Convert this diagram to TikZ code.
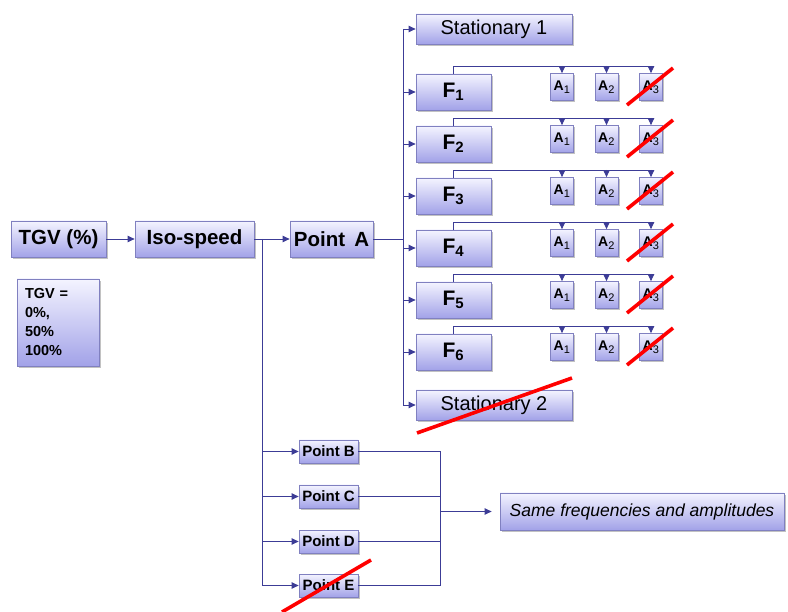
\documentclass[tikz,border=0pt]{standalone}
\usepackage{fontspec}
\setmainfont{Liberation Sans}
\usetikzlibrary{shadows,arrows.meta}
\definecolor{lnc}{HTML}{3C3C96}
\definecolor{bxd}{HTML}{8080C0}
\definecolor{bxt}{HTML}{F4F4FF}
\definecolor{bxb}{HTML}{A2A2E8}
\newcommand{\subsz}[1]{\textsubscript{\fontsize{11}{12}\selectfont #1}}
\begin{document}
\begin{tikzpicture}[x=1pt,y=-1pt,
  box/.style={draw=bxd, line width=0.8pt, top color=bxt, bottom color=bxb, inner sep=0pt,
    drop shadow={shadow xshift=1.6pt,shadow yshift=-1.6pt,opacity=0.4,fill=black!60}},
  ln/.style={draw=lnc, line width=0.9pt},
  arr/.style={ln, -{Triangle[length=7pt,width=6.5pt]}},
  crossout/.style={draw=red, line width=3.6pt},
  bigb/.style={font=\bfseries\fontsize{20.5}{24}\selectfont},
  ptb/.style={box, minimum width=59pt, minimum height=23pt, font=\bfseries\fontsize{15}{18}\selectfont},
  stb/.style={box, minimum width=156pt, minimum height=30pt, font=\fontsize{20}{24}\selectfont},
  abox/.style={box, minimum width=23pt, minimum height=27pt, font=\bfseries\fontsize{14}{16}\selectfont},
  fbox/.style={box, minimum width=75pt, minimum height=36pt, font=\bfseries\fontsize{21}{24}\selectfont}]
\useasboundingbox (0,0) rectangle (788,612);

% left chain
\node[box, bigb, minimum width=95pt, minimum height=36pt] (tgv) at (58.5,239) {TGV (\%)};
\node[box, bigb, minimum width=119pt, minimum height=36pt] (iso) at (194.5,239) {Iso-speed};
\node[box, bigb, minimum width=83pt, minimum height=36pt] (pa) at (331.5,239) {Point\hspace{0.45em}A};
\node[box, minimum width=82pt, minimum height=87pt, text width=66pt, align=left,
  font=\bfseries\fontsize{14.5}{19}\selectfont] (tgvv) at (58,322.5) {TGV =\\0\%,\\50\%\\100\%};

\draw[arr] (tgv.east) -- (iso.west);
\draw[arr] (iso.east) -- (pa.west);

% stationary and F rows
\node[stb] (st1) at (494,29) {Stationary 1};
\node[stb] (st2) at (494,405) {Stationary 2};
\coordinate (vt) at (403,29);
\coordinate (vb) at (403,405);
\draw[ln] (pa.east) -- (pa.east -| vt);
\draw[ln] (vt) -- (vb);
\draw[arr] (vt) -- (st1.west);
\draw[arr] (vb) -- (st2.west);

\foreach \k in {1,...,6}{
  \pgfmathsetmacro{\yt}{73+52*(\k-1)}
  \node[fbox] (f\k) at (453.5,{\yt+19}) {F\textsubscript{\fontsize{15}{16}\selectfont\k}};
  \node[abox] (a\k1) at (562,{\yt+14}) {A\subsz{\mdseries 1}};
  \node[abox] (a\k2) at (606.5,{\yt+14}) {A\subsz{\mdseries 2}};
  \node[abox] (a\k3) at (651,{\yt+14}) {A\subsz{\mdseries 3}};
  \coordinate (t\k) at (a\k3.north |- {0,\yt-7});
  \draw[ln] (f\k.north) |- (t\k);
  \draw[arr] (a\k1.north |- t\k) -- (a\k1.north);
  \draw[arr] (a\k2.north |- t\k) -- (a\k2.north);
  \draw[arr] (t\k) -- (a\k3.north);
  \draw[arr] (f\k.west -| vt) -- (f\k.west);
  \coordinate (c\k a) at (627,{\yt+32});
  \coordinate (c\k b) at (673,{\yt-5});
  \draw[crossout] (c\k a) -- (c\k b);
}

% points B..E
\node[ptb] (pb) at (328.5,451.5) {Point B};
\node[ptb] (pc) at (328.5,496.5) {Point C};
\node[ptb] (pd) at (328.5,541.5) {Point D};
\node[ptb] (pe) at (328.5,585.5) {Point E};
\coordinate (br) at (262,239);
\coordinate (rv) at (440,0);
\draw[ln] (br) -- (br |- pe.west);
\foreach \p in {pb,pc,pd,pe}{
  \draw[arr] (br |- \p.west) -- (\p.west);
}
\draw[ln] (pb.east) -- (pb.east -| rv) -- (pe.east -| rv) -- (pe.east);
\draw[ln] (pc.east) -- (pc.east -| rv);
\draw[ln] (pd.east) -- (pd.east -| rv);

\node[box, minimum width=284pt, minimum height=37pt, font=\itshape\fontsize{17.5}{21}\selectfont] (sf) at (642,511.5) {Same frequencies and amplitudes};
\draw[arr] (rv |- sf.west) -- ([xshift=-8pt]sf.west);

% cross-outs
\coordinate (s2a) at (417,433);
\coordinate (s2b) at (572,378);
\draw[crossout] (s2a) -- (s2b);
\coordinate (pea) at (282,612);
\coordinate (peb) at (371,560);
\draw[crossout] (pea) -- (peb);
\end{tikzpicture}
\end{document}
